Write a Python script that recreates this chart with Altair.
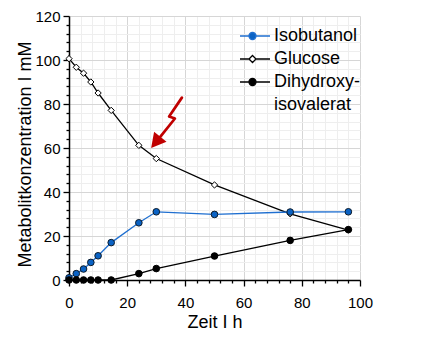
import altair as alt
import pandas as pd

# ---- data ----
time_h = [0, 2.5, 5, 7.5, 10, 14.5, 24, 30, 50, 76, 96]
isobutanol = [1.0, 2.9, 5.0, 8.0, 11.0, 17.0, 26.0, 31.0, 29.8, 30.9, 31.0]
glucose = [100.6, 96.7, 94.0, 90.0, 85.0, 77.1, 61.2, 55.2, 43.2, 30.1, 22.7]
dihydroxy = [0, 0, 0, 0, 0, 0, 2.9, 5.2, 10.9, 18.0, 22.9]

series_names = ["Isobutanol", "Glucose", "Dihydroxy-isovalerat"]
legend_labels = ["Isobutanol", "Glucose", "Dihydroxy-", "isovalerat"]

# red annotation arrow (data coordinates)
arrow_x = [38.8, 34.4, 36.4, 31.0]
arrow_y = [82.9, 74.3, 73.4, 64.5]
arrow_head_x = [30.4]
arrow_head_y = [63.5]

x_ticks = list(range(0, 101, 4))
y_ticks = list(range(0, 121, 4))

# ---- tables ----
rows = []
for name, vals in zip(series_names, [isobutanol, glucose, dihydroxy]):
    for t, v in zip(time_h, vals):
        rows.append({"time": t, "value": v, "series": name})
df = pd.DataFrame(rows)

arrow_df = pd.DataFrame({"time": arrow_x, "value": arrow_y, "i": list(range(len(arrow_x)))})
head_df = pd.DataFrame({"time": arrow_head_x, "value": arrow_head_y})

FONT = "Liberation Sans"
BLUE_LINE = "#1f6fd0"
BLUE_FILL = "#0a62c4"
RED = "#c00000"

major = "datum.value % 20 === 0"
X = alt.X(
    "time:Q",
    scale=alt.Scale(domain=[0, 100], nice=False),
    axis=alt.Axis(
        title="Zeit I h",
        values=x_ticks,
        labelExpr=f"{major} ? datum.label : ''",
        labelFlush=False,
        tickSize={"condition": {"test": major, "value": 6}, "value": 3},
        gridColor={"condition": {"test": major, "value": "#d6d6d6"}, "value": "#eeeeee"},
        labelPadding=9,
        titlePadding=3,
    ),
)
Y = alt.Y(
    "value:Q",
    scale=alt.Scale(domain=[0, 120], nice=False),
    axis=alt.Axis(
        title="Metabolitkonzentration I mM",
        values=y_ticks,
        labelExpr=f"{major} ? datum.label : ''",
        labelFlush=False,
        tickSize={"condition": {"test": major, "value": 6}, "value": 3},
        gridColor={"condition": {"test": major, "value": "#d6d6d6"}, "value": "#eeeeee"},
        labelPadding=3,
        titlePadding=0,
        titleY=138,
    ),
)

base = alt.Chart(df)

def series_layers(name, line_color, shape, fill, stroke, size):
    sub = base.transform_filter(alt.datum.series == name)
    line = sub.mark_line(color=line_color, strokeWidth=1.3).encode(x=X, y=Y)
    pts = sub.mark_point(shape=shape, fill=fill, stroke=stroke, strokeWidth=1,
                         filled=False, size=size, opacity=1, fillOpacity=1).encode(x=X, y=Y)
    return [line, pts]

layers = []
layers += series_layers("Glucose", "black", "diamond", "white", "black", 40)
layers += series_layers("Isobutanol", BLUE_LINE, "circle", BLUE_FILL, "#0d1b2a", 44)
layers += series_layers("Dihydroxy-isovalerat", "black", "circle", "black", "black", 44)

arrow_line = alt.Chart(arrow_df).mark_line(
    color=RED, strokeWidth=2.7, strokeJoin="round", strokeCap="round"
).encode(x=X, y=Y, order="i:Q")
arrow_head = alt.Chart(head_df).mark_point(
    shape="M0,-1L0.8,0.45L-0.8,0.45Z", angle=219, size=400, filled=True,
    color=RED, opacity=1,
).encode(x=X, y=Y)
layers += [arrow_line, arrow_head]

# legend (invisible marks, visible legend symbols: line + marker)
p_circ = "M-1.5,0L-0.6,0M0.1,0L1.5,0M0.1,0A0.35,0.35,0,1,1,-0.6,0A0.35,0.35,0,1,1,0.1,0Z"
p_diam = "M-1.5,0L-0.6,0M0.1,0L1.5,0M-0.25,-0.35L0.1,0L-0.25,0.35L-0.6,0Z"
leg = alt.Legend(
    title=None, orient="none", legendX=175, legendY=9, padding=0,
    labelFont=FONT, labelFontSize=18, labelColor="black", labelOffset=8,
    labelLimit=300, rowPadding=3, symbolSize=400, symbolStrokeWidth=1.3,
    symbolOpacity=1,
)
legend_layer = base.transform_calculate(
    lab="datum.series === 'Dihydroxy-isovalerat' ? 'Dihydroxy-' : datum.series"
).mark_point(opacity=0, filled=True).encode(
    x=X, y=Y,
    shape=alt.Shape("lab:N", scale=alt.Scale(domain=legend_labels, range=[p_circ, p_diam, p_circ, "M0,0"]), legend=leg),
    fill=alt.Fill("lab:N", scale=alt.Scale(domain=legend_labels, range=[BLUE_FILL, "white", "black", "transparent"]), legend=leg),
    stroke=alt.Stroke("lab:N", scale=alt.Scale(domain=legend_labels, range=[BLUE_LINE, "black", "black", "transparent"]), legend=leg),
)
layers.append(legend_layer)

chart = alt.layer(*layers).properties(
    width=291, height=264,
    background="white",
    autosize=alt.AutoSizeParams(type="none"),
    padding={"left": 69, "top": 16, "right": 88, "bottom": 76},
).configure_view(stroke=None).configure_axis(
    labelFont=FONT, labelFontSize=15, labelColor="black",
    titleFont=FONT, titleFontSize=18, titleFontWeight="normal", titleColor="black",
    domainColor="black", domainWidth=1.5, tickColor="black", tickWidth=1.3,
    gridWidth=1,
)

chart.save("out.html", embed_options={"renderer": "svg", "actions": False})
